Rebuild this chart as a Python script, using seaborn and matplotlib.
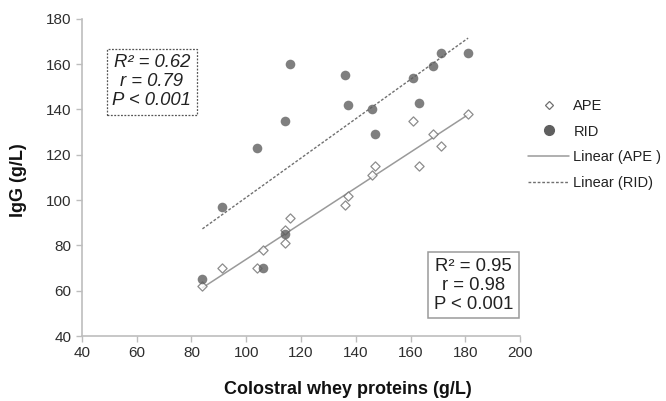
import matplotlib
matplotlib.use("Agg")
import matplotlib.pyplot as plt
from matplotlib.lines import Line2D
import seaborn as sns
import pandas as pd

# values
proteins = [84, 91, 104, 106, 114, 114, 116, 136, 137, 146, 147, 161, 163, 168, 171, 181]
igg_ape = [62, 70, 70, 78, 81, 87, 92, 98, 102, 111, 115, 135, 115, 129, 124, 138]
igg_rid = [65, 97, 123, 70, 85, 135, 160, 155, 142, 140, 129, 154, 143, 159, 165, 165]

x_ticks = list(range(40, 201, 20))
y_ticks = list(range(40, 181, 20))

stats_rid = "R² = 0.62\nr = 0.79\nP < 0.001"
stats_ape = "R² = 0.95\nr = 0.98\nP < 0.001"

df = pd.DataFrame({"protein": proteins, "APE": igg_ape, "RID": igg_rid})

sns.set_style("ticks")
plt.rcParams["font.family"] = ["Liberation Sans", "DejaVu Sans"]

fig = plt.figure(figsize=(6.66, 4.01), dpi=100)
ax = fig.add_axes([0.123, 0.162, 0.658, 0.791])

sns.regplot(
    data=df, x="protein", y="APE", ax=ax, ci=None,
    marker="D",
    scatter_kws={"s": 22, "facecolor": "white", "edgecolor": "#707070", "linewidths": 0.9, "zorder": 3},
    line_kws={"color": "#9a9a9a", "lw": 1.1, "zorder": 2},
)
sns.regplot(
    data=df, x="protein", y="RID", ax=ax, ci=None,
    marker="o",
    scatter_kws={"s": 48, "color": "#5f5f5f", "linewidths": 0, "zorder": 3},
    line_kws={"color": "#707070", "lw": 1.0, "ls": (0, (2, 1.3)), "zorder": 2},
)

ax.set_xlim(40, 200)
ax.set_ylim(40, 180)
ax.set_xticks(x_ticks)
ax.set_yticks(y_ticks)
sns.despine(ax=ax)
for sp in ["left", "bottom"]:
    ax.spines[sp].set_color("#bdbdbd")
    ax.spines[sp].set_linewidth(1.2)
ax.tick_params(colors="#bdbdbd", labelcolor="#2e2e2e", labelsize=11, length=4, width=1)

ax.set_xlabel("Colostral whey proteins (g/L)", fontsize=13, fontweight="bold", color="#111111")
ax.set_ylabel("IgG (g/L)", fontsize=13, fontweight="bold", color="#111111")
ax.xaxis.set_label_coords(0.607, -0.142)
ax.yaxis.set_label_coords(-0.125, 0.49)

ax.text(65.5, 152.3, stats_rid, ha="center", va="center", fontsize=13.3, style="italic",
        color="#222222", linespacing=1.15,
        bbox=dict(boxstyle="square,pad=0.3", fc="white", ec="#555555", ls=(0, (1.5, 1.2)), lw=0.9))
ax.text(182.9, 62.5, stats_ape, ha="center", va="center", fontsize=13.3,
        color="#222222", linespacing=1.15,
        bbox=dict(boxstyle="square,pad=0.3", fc="white", ec="#9a9a9a", lw=1.1))

handles = [
    Line2D([], [], ls="none", marker="D", ms=4.5, mfc="white", mec="#707070", mew=0.9),
    Line2D([], [], ls="none", marker="o", ms=7, mfc="#5f5f5f", mec="#5f5f5f"),
    Line2D([], [], color="#9a9a9a", lw=1.1),
    Line2D([], [], color="#707070", lw=1.0, ls=(0, (2, 1.3))),
]
labels = ["APE", "RID", "Linear (APE )", "Linear (RID)"]
fig.legend(handles, labels, loc="center left", bbox_to_anchor=(0.793, 0.64),
           frameon=False, fontsize=10.5, handlelength=2.8, handletextpad=0.3,
           labelspacing=0.8, borderpad=0, borderaxespad=0, labelcolor="#222222")

fig.savefig("out.png", dpi=100)
